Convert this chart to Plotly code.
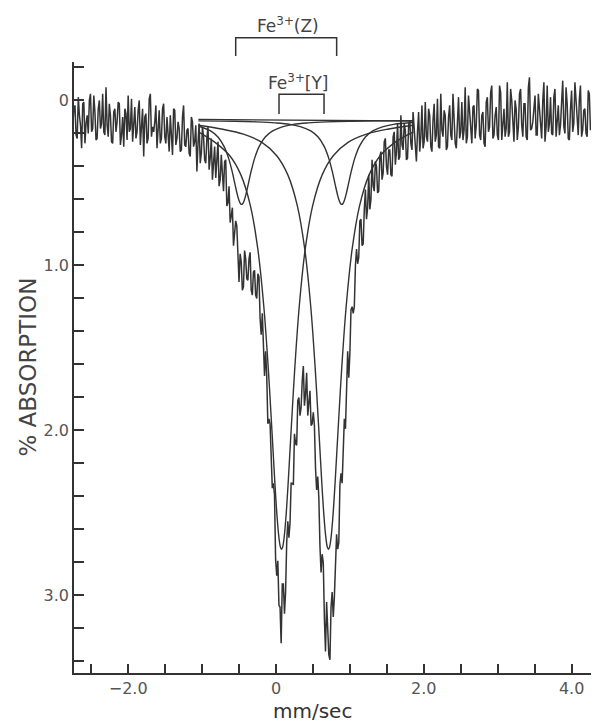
import numpy as np
import plotly.graph_objects as go

# ---------------- data ----------------
# Mossbauer spectrum, % absorption. Channels on a 0.03 mm/sec grid from -2.75
# ("even" channels) and the interleaved channels half a step later ("odd").
EVEN_START, EVEN_END, N_EVEN = -2.75, 4.36, 238
ODD_START, ODD_END, N_ODD = -2.735, 4.345, 237
absorption_even = [
    0.16, 0.03, 0.23, 0.09, 0.29, 0.01, 0.14, 0.20, -0.04, 0.17,
    0.07, 0.23, 0.00, 0.14, 0.19, -0.08, 0.22, 0.09, 0.26, 0.05,
    0.13, 0.02, 0.21, 0.28, 0.08, -0.03, 0.17, 0.25, 0.04, 0.19,
    0.00, 0.17, 0.34, 0.08, 0.23, -0.04, 0.16, 0.13, 0.29, 0.06,
    0.23, 0.02, 0.26, 0.21, 0.09, 0.33, 0.06, 0.23, 0.17, 0.30,
    0.03, 0.28, 0.17, 0.34, 0.13, 0.25, 0.43, 0.14, 0.32, 0.22,
    0.38, 0.16, 0.35, 0.48, 0.28, 0.35, 0.52, 0.33, 0.55, 0.36,
    0.62, 0.74, 0.65, 0.81, 0.76, 1.10, 0.98, 1.13, 0.96, 1.09,
    0.92, 1.18, 1.03, 1.20, 1.07, 1.42, 1.48, 1.52, 1.96, 1.96,
    2.35, 2.39, 2.88, 3.06, 3.29, 2.93, 2.98, 2.55, 2.56, 2.32,
    2.02, 2.09, 1.80, 1.86, 1.61, 1.78, 1.91, 1.76, 1.96, 1.97,
    2.36, 2.41, 2.86, 2.80, 3.34, 3.26, 3.39, 2.98, 3.01, 2.63,
    2.68, 2.26, 2.16, 1.99, 1.52, 1.53, 1.25, 1.25, 0.90, 0.95,
    0.72, 0.87, 0.54, 0.65, 0.66, 0.36, 0.55, 0.40, 0.55, 0.31,
    0.44, 0.23, 0.45, 0.30, 0.46, 0.19, 0.31, 0.36, 0.09, 0.30,
    0.18, 0.35, 0.12, 0.30, 0.17, 0.37, 0.07, 0.22, 0.29, 0.01,
    0.25, 0.09, 0.31, 0.02, 0.21, 0.28, -0.04, 0.22, 0.09, 0.28,
    0.03, 0.24, 0.12, 0.29, -0.02, 0.19, 0.24, -0.08, 0.22, 0.08,
    0.26, 0.03, 0.15, -0.06, 0.24, 0.07, 0.28, -0.02, 0.16, -0.09,
    0.21, 0.04, 0.24, -0.05, 0.15, 0.22, -0.11, 0.19, 0.00, 0.25,
    0.05, 0.16, -0.07, 0.22, 0.02, 0.24, -0.14, 0.17, 0.07, 0.21,
    -0.04, 0.19, 0.00, 0.25, -0.09, 0.14, 0.20, -0.02, 0.22, 0.03,
    0.15, -0.12, 0.20, 0.02, 0.24, -0.06, 0.14, 0.00, 0.21, -0.09,
    0.18, 0.05, 0.22, -0.04, 0.16, -0.10, 0.19, 0.07,
]
absorption_odd = [
    0.05, 0.21, -0.02, 0.15, 0.02, 0.26, 0.09, 0.00, 0.19, -0.03,
    0.24, 0.05, 0.17, -0.04, 0.21, 0.15, 0.02, 0.25, 0.07, 0.19,
    0.01, 0.27, 0.10, 0.05, 0.24, 0.19, -0.01, 0.15, 0.23, 0.06,
    0.27, 0.05, 0.10, 0.26, -0.01, 0.22, 0.19, 0.03, 0.18, 0.26,
    0.05, 0.22, 0.10, 0.31, 0.18, 0.05, 0.27, 0.13, 0.31, 0.10,
    0.27, 0.18, 0.32, 0.10, 0.28, 0.15, 0.26, 0.38, 0.16, 0.36,
    0.23, 0.42, 0.23, 0.38, 0.47, 0.25, 0.48, 0.46, 0.37, 0.64,
    0.52, 0.70, 0.88, 0.73, 1.01, 0.93, 1.15, 0.91, 1.08, 0.96,
    1.15, 1.04, 1.18, 1.05, 1.32, 1.29, 1.67, 1.67, 1.93, 2.24,
    2.32, 2.78, 2.79, 3.07, 2.93, 3.11, 2.68, 2.65, 2.32, 2.33,
    2.08, 1.82, 1.91, 1.70, 1.85, 1.65, 1.83, 1.97, 1.89, 2.23,
    2.28, 2.70, 2.75, 3.14, 3.04, 3.36, 3.07, 3.13, 2.75, 2.72,
    2.33, 2.32, 1.93, 1.80, 1.68, 1.27, 1.29, 1.00, 0.99, 0.73,
    0.88, 0.66, 0.72, 0.45, 0.60, 0.52, 0.37, 0.56, 0.34, 0.48,
    0.25, 0.40, 0.30, 0.45, 0.22, 0.39, 0.14, 0.34, 0.27, 0.14,
    0.36, 0.15, 0.26, 0.07, 0.30, 0.19, 0.31, 0.03, 0.25, 0.22,
    0.05, 0.28, 0.12, 0.25, -0.01, 0.29, 0.18, 0.06, 0.30, 0.10,
    0.21, -0.04, 0.26, 0.07, 0.23, 0.01, 0.18, 0.26, -0.03, 0.20,
    0.04, 0.23, -0.07, 0.21, 0.09, 0.26, 0.01, 0.19, -0.05, 0.23,
    0.09, 0.21, -0.09, 0.24, 0.05, 0.17, 0.22, -0.07, 0.19, 0.00,
    0.24, -0.04, 0.15, 0.02, 0.22, -0.08, 0.18, 0.13, -0.03, 0.21,
    0.05, 0.23, -0.11, 0.16, 0.19, -0.02, 0.21, -0.07, 0.13, 0.21,
    0.01, 0.16, -0.08, 0.23, 0.05, 0.19, -0.11, 0.17, -0.01, 0.22,
    0.06, 0.20, -0.06, 0.18, -0.02, 0.21, 0.03,
]

# fitted component lines
yl_x = [-1.05, -0.825, -0.625, -0.475, -0.345, -0.245, -0.165, -0.105, -0.055, -0.015,
        0.015, 0.04, 0.06, 0.075, 0.09, 0.11, 0.135, 0.165, 0.205, 0.255,
        0.315, 0.395, 0.495, 0.625, 0.775, 0.975, 1.225, 1.525, 1.86]
yl_y = [0.19, 0.254, 0.335, 0.451, 0.64, 0.903, 1.247, 1.619, 2.0, 2.317,
        2.524, 2.65, 2.707, 2.72, 2.707, 2.65, 2.524, 2.317, 2.0, 1.619,
        1.247, 0.903, 0.64, 0.451, 0.335, 0.254, 0.204, 0.173, 0.15]

yr_x = [-1.05, -0.74, -0.44, -0.19, 0.01, 0.16, 0.29, 0.39, 0.47, 0.53,
        0.58, 0.62, 0.65, 0.675, 0.695, 0.71, 0.725, 0.745, 0.77, 0.8,
        0.84, 0.89, 0.95, 1.03, 1.13, 1.26, 1.41, 1.61, 1.86]
yr_y = [0.15, 0.173, 0.204, 0.254, 0.335, 0.451, 0.64, 0.903, 1.247, 1.619,
        2.0, 2.317, 2.524, 2.65, 2.707, 2.72, 2.707, 2.65, 2.524, 2.317,
        2.0, 1.619, 1.247, 0.903, 0.64, 0.451, 0.335, 0.254, 0.19]

zl_x = [-1.05, -0.885, -0.785, -0.705, -0.645, -0.595, -0.555, -0.525, -0.5, -0.48,
        -0.465, -0.45, -0.43, -0.405, -0.375, -0.335, -0.285, -0.225, -0.145, -0.045,
        0.085, 0.235, 0.435, 0.685, 0.985, 1.335, 1.86]
zl_y = [0.155, 0.185, 0.222, 0.277, 0.345, 0.427, 0.507, 0.567, 0.607, 0.626,
        0.63, 0.626, 0.607, 0.567, 0.507, 0.427, 0.345, 0.277, 0.222, 0.185,
        0.16, 0.145, 0.136, 0.13, 0.126, 0.124, 0.122]

zr_x = [-1.05, -0.56, -0.26, -0.01, 0.19, 0.34, 0.47, 0.57, 0.65, 0.71,
        0.76, 0.8, 0.83, 0.855, 0.875, 0.89, 0.905, 0.925, 0.95, 0.98,
        1.02, 1.07, 1.13, 1.21, 1.31, 1.44, 1.59, 1.86]
zr_y = [0.124, 0.126, 0.13, 0.136, 0.145, 0.16, 0.185, 0.222, 0.277, 0.345,
        0.427, 0.507, 0.567, 0.607, 0.626, 0.63, 0.626, 0.607, 0.567, 0.507,
        0.427, 0.345, 0.277, 0.222, 0.185, 0.16, 0.145, 0.134]

base_x = [-1.05, 1.86]
base_y = [0.115, 0.125]

# site brackets (mm/sec) and labels
z_bracket = [-0.545, 0.821]
y_bracket = [0.041, 0.65]
z_label = "Fe<sup>3+</sup>(Z)"
y_label = "Fe<sup>3+</sup>[Y]"

x_tickvals = [-2, 0, 2, 4]
x_ticktext = ["\u22122.0", "0", "2.0", "4.0"]
y_tickvals = [0, 1, 2, 3]
y_ticktext = ["0", "1.0", "2.0", "3.0"]

# ---------------- figure ----------------
INK = "#333333"
FONT = "DejaVu Sans"

vel = np.concatenate([np.linspace(EVEN_START, EVEN_END, N_EVEN),
                      np.linspace(ODD_START, ODD_END, N_ODD)])
ab = np.concatenate([np.array(absorption_even), np.array(absorption_odd)])
order = np.argsort(vel)
velocity, absorption = vel[order], ab[order]

fig = go.Figure()
fig.add_trace(go.Scatter(x=velocity, y=absorption, mode="lines",
                         line=dict(color=INK, width=1.5), hoverinfo="skip"))
for cx, cy in [(base_x, base_y), (yl_x, yl_y), (yr_x, yr_y), (zl_x, zl_y), (zr_x, zr_y)]:
    fig.add_trace(go.Scatter(x=cx, y=cy, mode="lines",
                             line=dict(color=INK, width=1.4, shape="spline", smoothing=1.0),
                             hoverinfo="skip"))

# brackets
zx0, zx1 = z_bracket
fig.add_shape(type="path", xref="x", yref="paper",
              path=f"M {zx0},1.0098 L {zx0},1.0398 L {zx1},1.0398 L {zx1},1.0098",
              line=dict(color=INK, width=1.5))
yx0, yx1 = y_bracket
fig.add_shape(type="path", xref="x", yref="y",
              path=f"M {yx0},0.082 L {yx0},-0.038 L {yx1},-0.038 L {yx1},0.082",
              line=dict(color=INK, width=1.5))

fig.add_annotation(x=0.16, y=1.0606, xref="x", yref="paper",
                   xanchor="center", yanchor="middle",
                   text=z_label, showarrow=False,
                   font=dict(family=FONT, size=17, color="#444444"))
fig.add_annotation(x=0.311, y=-0.112, xref="x", yref="y",
                   xanchor="center", yanchor="middle",
                   text=y_label, showarrow=False,
                   font=dict(family=FONT, size=17, color="#444444"))

# axis titles
fig.add_annotation(x=-0.088, y=0.5, xref="paper", yref="paper",
                   xanchor="center", yanchor="middle",
                   text="% ABSORPTION", textangle=-90, showarrow=False,
                   font=dict(family=FONT, size=23, color="#444444"))
fig.add_annotation(x=0.448, y=-0.062, xref="paper", yref="paper",
                   xanchor="center", yanchor="middle",
                   text="mm/sec", showarrow=False,
                   font=dict(family=FONT, size=20, color="#333333"))

# (page body has an 8px margin: plot area lands at x 74..599, y 62..673 on screen)
fig.update_layout(
    width=599, height=725,
    margin=dict(l=66, r=0, t=54, b=60),
    paper_bgcolor="white", plot_bgcolor="white",
    showlegend=False,
    font=dict(family=FONT, color="#555555"),
)
fig.update_xaxes(
    range=[-2.733, 4.479], showgrid=False, zeroline=False,
    showline=True, linecolor=INK, linewidth=1.5,
    tickvals=x_tickvals, ticktext=x_ticktext,
    ticks="inside", ticklen=9, tickwidth=1.5, tickcolor=INK,
    tickfont=dict(family=FONT, size=16, color="#555555"),
    minor=dict(dtick=0.5, tick0=0, ticks="inside", ticklen=9, tickwidth=1.5, tickcolor=INK),
)
fig.update_yaxes(
    range=[3.47, -0.233], showgrid=False, zeroline=False,
    showline=True, linecolor=INK, linewidth=1.5,
    tickvals=y_tickvals, ticktext=y_ticktext,
    ticks="inside", ticklen=10, tickwidth=1.5, tickcolor=INK,
    tickfont=dict(family=FONT, size=16, color="#555555"),
    minor=dict(dtick=0.2, tick0=0, ticks="inside", ticklen=10, tickwidth=1.5, tickcolor=INK),
)

fig.write_html("out.html")
